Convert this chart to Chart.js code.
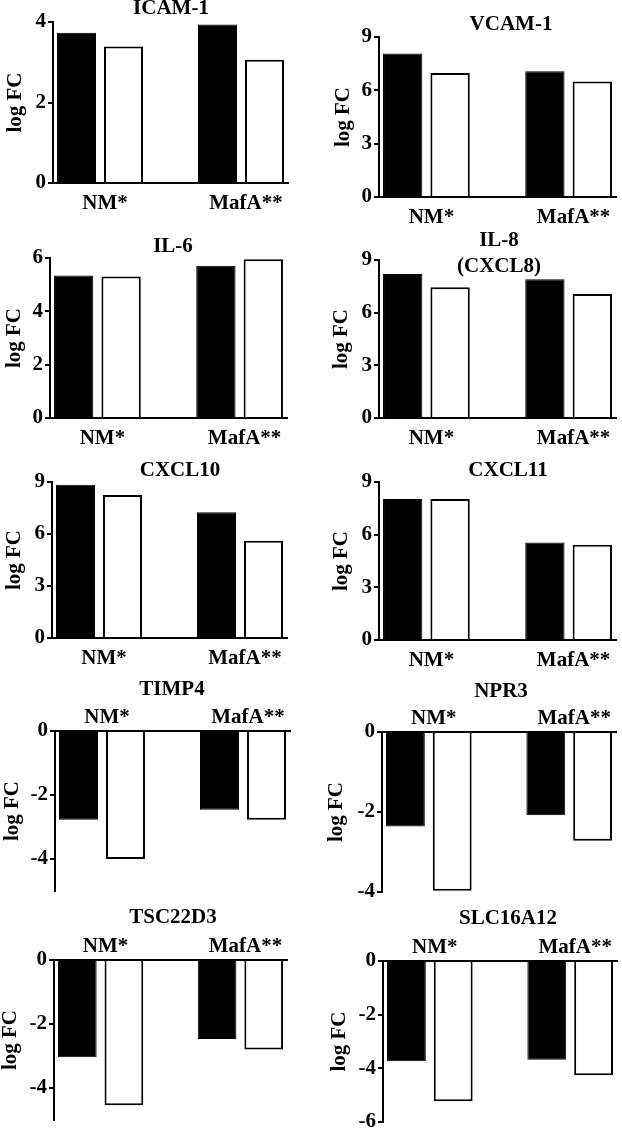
<!DOCTYPE html>
<html>
<head>
<meta charset="utf-8">
<script src="https://cdn.jsdelivr.net/npm/chart.js@4/dist/chart.umd.min.js"></script>
<style>
  html, body { margin: 0; padding: 0; background: #fff; overflow: hidden; }
  #page { position: relative; width: 622px; height: 1131px; overflow: hidden; background: #fff; }
  #page canvas { position: absolute; }
</style>
</head>
<body>
<div id="page"></div>
<script>
// groups on the x axis
const groups = ['NM*', 'MafA**'];

// one panel per gene
const genes = ['ICAM-1', 'VCAM-1', 'IL-6', ['IL-8', '(CXCL8)'], 'CXCL10',
               'CXCL11', 'TIMP4', 'NPR3', 'TSC22D3', 'SLC16A12'];

// log FC, [NM*, MafA**] per gene
const solidBars = [
  [3.73, 3.94], [8.07, 7.07], [5.34, 5.71], [8.2, 7.9], [8.84, 7.25],
  [8.03, 5.55], [-2.77, -2.46], [-2.36, -2.08], [-3.04, -2.47], [-3.74, -3.68]
];
const openBars = [
  [3.39, 3.06], [6.98, 6.49], [5.31, 5.95], [7.45, 7.07], [8.25, 5.61],
  [8.03, 5.42], [-4.0, -2.77], [-3.97, -2.72], [-4.54, -2.8], [-5.23, -4.26]
];

// y axis ranges and tick labels
const yLimits = [[0, 4], [0, 9], [0, 6], [0, 9], [0, 9], [0, 9], [-5, 0], [-4, 0], [-5, 0], [-6, 0]];
const yTicks = [
  [0, 2, 4], [0, 3, 6, 9], [0, 2, 4, 6], [0, 3, 6, 9], [0, 3, 6, 9],
  [0, 3, 6, 9], [-4, -2, 0], [-4, -2, 0], [-4, -2, 0], [-6, -4, -2, 0]
];

// where each panel sits: canvas box on the page, plot area inside the canvas
const panels = [
  { box: [0, 0, 311, 225],     area: [53, 22, 288, 183], titleAt: [171, 9],   yTitleX: 15 },
  { box: [311, 0, 311, 225],   area: [68, 37, 305, 197], titleAt: [200, 25],  yTitleX: 32 },
  { box: [0, 225, 311, 225],   area: [50, 33, 287, 193], titleAt: [173, 22],  yTitleX: 14 },
  { box: [311, 225, 311, 225], area: [68, 35, 305, 193], titleAt: [188, 16],  yTitleX: 30 },
  { box: [0, 450, 311, 230],   area: [52, 32, 287, 188], titleAt: [180, 21],  yTitleX: 14 },
  { box: [311, 450, 311, 230], area: [68, 32, 305, 190], titleAt: [197, 21],  yTitleX: 30 },
  { box: [0, 680, 311, 225],   area: [55, 51, 290, 211], titleAt: [172, 10],  yTitleX: 12 },
  { box: [311, 680, 311, 225], area: [71, 52, 305, 212], titleAt: [190, 12],  yTitleX: 25 },
  { box: [0, 905, 311, 240],   area: [54, 55, 287, 215], titleAt: [173, 13],  yTitleX: 10 },
  { box: [311, 905, 311, 240], area: [72, 56, 306, 217], titleAt: [197, 14],  yTitleX: 28 }
];

const serif = '"Liberation Serif", "Times New Roman", serif';
const tickFont = { family: serif, size: 21, weight: 'bold', lineHeight: 1 };
const axisTitleFont = { family: serif, size: 21, weight: 'bold', lineHeight: 1 };

Chart.defaults.color = '#000';

// gene name above each panel
const panelTitle = {
  id: 'panelTitle',
  afterDraw(chart, args, opts) {
    const ctx = chart.ctx;
    ctx.save();
    ctx.font = 'bold 21px ' + serif;
    ctx.fillStyle = '#000';
    ctx.textAlign = 'center';
    ctx.textBaseline = 'middle';
    [].concat(opts.text).forEach((line, k) => ctx.fillText(line, opts.x, opts.y + k * 26));
    ctx.restore();
  }
};

const page = document.getElementById('page');

genes.forEach((gene, i) => {
  const p = panels[i];
  const [bx, by, bw, bh] = p.box;
  const [al, at, ar, ab] = p.area;
  const down = yLimits[i][1] <= 0;

  const canvas = document.createElement('canvas');
  canvas.width = bw;
  canvas.height = bh;
  canvas.style.left = bx + 'px';
  canvas.style.top = by + 'px';
  page.appendChild(canvas);

  const xHeight = down ? at : bh - ab;

  new Chart(canvas, {
    type: 'bar',
    data: {
      datasets: [
        {
          data: solidBars[i].map((v, k) => ({ x: 1 + 3 * k, y: v })),
          backgroundColor: '#000',
          borderColor: '#000',
          borderWidth: 1,
          grouped: false,
          barPercentage: 0.83,
          categoryPercentage: 1
        },
        {
          data: openBars[i].map((v, k) => ({ x: 2 + 3 * k, y: v })),
          backgroundColor: '#fff',
          borderColor: '#000',
          borderWidth: 2,
          grouped: false,
          barPercentage: 0.83,
          categoryPercentage: 1
        }
      ]
    },
    options: {
      responsive: false,
      animation: false,
      events: [],
      layout: {
        padding: { left: 0, top: down ? 0 : at, right: bw - ar, bottom: down ? bh - ab : 0 }
      },
      plugins: {
        legend: { display: false },
        tooltip: { enabled: false },
        panelTitle: { text: gene, x: p.titleAt[0], y: p.titleAt[1] }
      },
      scales: {
        x: {
          type: 'linear',
          position: down ? 'top' : 'bottom',
          min: 0.5,
          max: 5.5,
          offset: false,
          grid: { display: false, drawTicks: false },
          border: { display: true, color: '#000', width: 2 },
          afterBuildTicks: s => { s.ticks = groups.map((g, k) => ({ value: 1.5 + 3 * k })); },
          afterFit: s => { s.height = xHeight; },
          ticks: {
            callback: (v, k) => groups[k],
            color: '#000',
            font: tickFont,
            padding: down ? 3 : 10,
            labelOffset: 5,
            maxRotation: 0,
            autoSkip: false
          }
        },
        y: {
          min: yLimits[i][0],
          max: yLimits[i][1],
          afterBuildTicks: s => { s.ticks = yTicks[i].map(v => ({ value: v })); },
          afterFit: s => { s.width = al; },
          grid: { drawOnChartArea: false, drawTicks: true, tickLength: 5, color: '#000', lineWidth: 2 },
          border: { display: true, color: '#000', width: 2 },
          ticks: { color: '#000', font: tickFont, padding: 2 },
          title: {
            display: true,
            text: 'log FC',
            color: '#000',
            font: axisTitleFont,
            padding: { top: Math.max(0, p.yTitleX - 10), bottom: 0 }
          }
        }
      }
    },
    plugins: [panelTitle]
  });
});
</script>
</body>
</html>
